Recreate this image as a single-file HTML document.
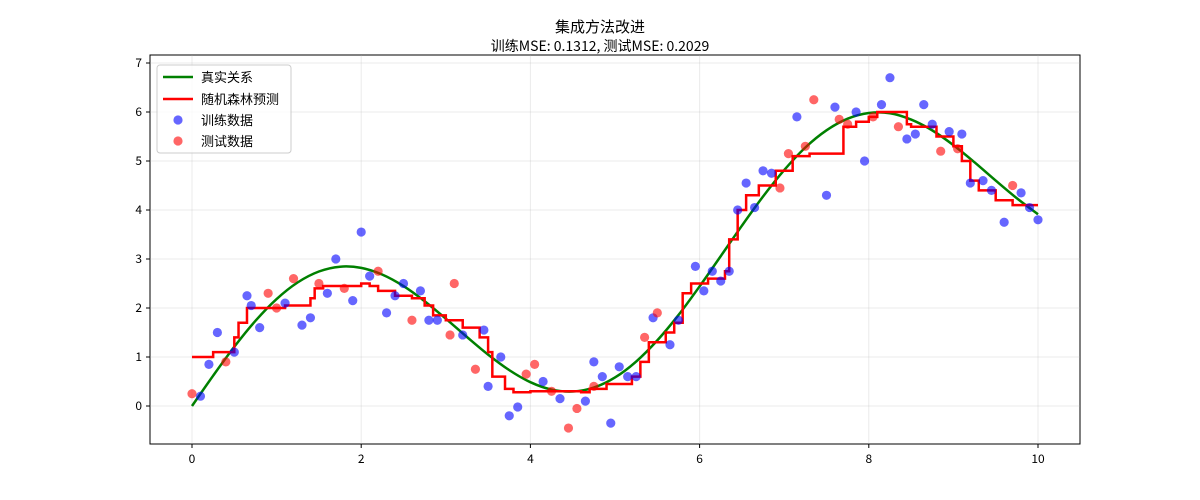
<!DOCTYPE html>
<html><head><meta charset="utf-8">
<style>
html,body{margin:0;padding:0;background:#fff;}
svg{display:block;font-family:"WenQuanYi Zen Hei","Noto Sans CJK SC","Liberation Sans",sans-serif;}
</style></head>
<body>
<svg id="chart" width="1200" height="500">
<text x="600" y="32" text-anchor="middle" font-size="15">集成方法改进</text>
<text x="600" y="51" text-anchor="middle" font-size="14">训练MSE: 0.1312, 测试MSE: 0.2029</text>
<rect x="150" y="55" width="930" height="389" fill="none" stroke="#000" stroke-width="1"/>
<g id="grid"></g>
<g id="series"></g>
<g id="ticks"></g>
<g>
<rect x="157" y="65" width="134" height="88" rx="3" fill="#fff" fill-opacity="0.8" stroke="#ccc"/>
<line x1="163" y1="77" x2="193" y2="77" stroke="green" stroke-width="2.5"/>
<text x="201" y="82" font-size="13">真实关系</text>
<line x1="163" y1="99" x2="193" y2="99" stroke="red" stroke-width="2.5"/>
<text x="201" y="104" font-size="13">随机森林预测</text>
<circle cx="178" cy="120" r="4.6" fill="blue" fill-opacity="0.6"/>
<text x="201" y="125" font-size="13">训练数据</text>
<circle cx="178" cy="141" r="4.6" fill="red" fill-opacity="0.6"/>
<text x="201" y="146" font-size="13">测试数据</text>
</g>
</svg>
<script>
const xTicks=[0,2,4,6,8,10];
const yTicks=[0,1,2,3,4,5,6,7];
const trueX=[0,0.25,0.5,0.75,1,1.25,1.5,1.75,2,2.25,2.5,2.75,3,3.25,3.5,3.75,4,4.25,4.5,4.75,5,5.25,5.5,5.75,6,6.25,6.5,6.75,7,7.25,7.5,7.75,8,8.25,8.5,8.75,9,9.25,9.5,9.75,10];
const trueY=[0,0.619,1.209,1.738,2.183,2.523,2.745,2.843,2.819,2.681,2.447,2.138,1.782,1.408,1.048,0.732,0.486,0.335,0.295,0.377,0.582,0.907,1.339,1.856,2.441,3.059,3.680,4.275,4.814,5.275,5.626,5.863,5.979,5.975,5.846,5.625,5.324,4.973,4.600,4.239,3.912];
const rfX=[0,0.25,0.5,0.55,0.65,1.1,1.4,1.45,1.55,2.0,2.1,2.2,2.4,2.6,2.75,2.85,3.0,3.2,3.4,3.5,3.55,3.7,3.8,4.0,4.6,4.7,4.9,5.1,5.2,5.3,5.4,5.6,5.7,5.8,5.9,6.1,6.3,6.35,6.45,6.55,6.7,6.9,7.1,7.3,7.7,7.85,8.0,8.1,8.45,8.5,8.8,9.0,9.1,9.2,9.3,9.5,9.7,10];
const rfY=[1.0,1.1,1.4,1.7,2.0,2.05,2.2,2.4,2.45,2.5,2.45,2.35,2.25,2.2,2.05,1.85,1.75,1.6,1.4,1.1,0.6,0.35,0.28,0.3,0.28,0.35,0.45,0.45,0.6,0.9,1.3,1.5,1.7,2.3,2.5,2.6,2.75,3.4,4.0,4.3,4.5,4.8,5.1,5.15,5.7,5.8,5.9,6.0,5.75,5.7,5.5,5.3,5.0,4.6,4.4,4.2,4.1,4.1];
const trainX=[0.1,0.2,0.3,0.5,0.65,0.7,0.8,1.1,1.3,1.4,1.6,1.7,1.9,2.0,2.1,2.3,2.4,2.5,2.7,2.8,2.9,3.2,3.45,3.5,3.65,3.75,3.85,4.15,4.35,4.65,4.75,4.85,4.95,5.05,5.15,5.25,5.45,5.65,5.75,5.95,6.05,6.15,6.25,6.35,6.45,6.55,6.65,6.75,6.85,7.15,7.5,7.6,7.85,7.95,8.15,8.25,8.45,8.55,8.65,8.75,8.95,9.1,9.2,9.35,9.45,9.6,9.8,9.9,10];
const trainY=[0.2,0.85,1.5,1.1,2.25,2.05,1.6,2.1,1.65,1.8,2.3,3.0,2.15,3.55,2.65,1.9,2.25,2.5,2.35,1.75,1.75,1.45,1.55,0.4,1.0,-0.2,-0.02,0.5,0.15,0.1,0.9,0.6,-0.35,0.8,0.6,0.6,1.8,1.25,1.75,2.85,2.35,2.75,2.55,2.75,4.0,4.55,4.05,4.8,4.75,5.9,4.3,6.1,6.0,5.0,6.15,6.7,5.45,5.55,6.15,5.75,5.6,5.55,4.55,4.6,4.4,3.75,4.35,4.05,3.8];
const testX=[0,0.4,0.9,1.0,1.2,1.5,1.8,2.2,2.6,3.05,3.1,3.35,3.95,4.05,4.25,4.45,4.55,4.75,5.35,5.5,6.95,7.05,7.25,7.35,7.65,7.75,8.05,8.35,8.85,9.05,9.7];
const testY=[0.25,0.9,2.3,2.0,2.6,2.5,2.4,2.75,1.75,1.45,2.5,0.75,0.65,0.85,0.3,-0.45,-0.05,0.4,1.4,1.9,4.45,5.15,5.3,6.25,5.85,5.75,5.9,5.7,5.2,5.25,4.5];

const NS='http://www.w3.org/2000/svg';
const X=v=>192+v*84.6;
const Y=v=>406-v*49;
function mk(tag,attrs,parent){const e=document.createElementNS(NS,tag);for(const k in attrs)e.setAttribute(k,attrs[k]);parent.appendChild(e);return e;}
const grid=document.getElementById('grid'),ticks=document.getElementById('ticks'),series=document.getElementById('series');
xTicks.forEach(t=>{
  const g=mk('line',{x1:X(t),x2:X(t),y1:55,y2:444,stroke:'#b0b0b0','stroke-opacity':0.25},grid);
  
  
  mk('line',{x1:X(t),x2:X(t),y1:444,y2:448,stroke:'#000'},ticks);
  const l=mk('text',{x:X(t),y:463,'text-anchor':'middle','font-size':12},ticks);
  l.textContent=t;
  
  
});
yTicks.forEach(t=>{
  const g=mk('line',{x1:150,x2:1080,y1:Y(t),y2:Y(t),stroke:'#b0b0b0','stroke-opacity':0.25},grid);
  
  
  mk('line',{x1:146,x2:150,y1:Y(t),y2:Y(t),stroke:'#000'},ticks);
  const l=mk('text',{x:142,y:Y(t)+4,'text-anchor':'end','font-size':12},ticks);
  l.textContent=t;
  
  
});
let d='M'+X(trueX[0])+','+Y(trueY[0]);
for(let i=0;i<trueX.length-1;i++){
  const p0=[X(trueX[Math.max(i-1,0)]),Y(trueY[Math.max(i-1,0)])],p1=[X(trueX[i]),Y(trueY[i])],p2=[X(trueX[i+1]),Y(trueY[i+1])],p3=[X(trueX[Math.min(i+2,trueX.length-1)]),Y(trueY[Math.min(i+2,trueX.length-1)])];
  d+=' C'+(p1[0]+(p2[0]-p0[0])/6)+','+(p1[1]+(p2[1]-p0[1])/6)+' '+(p2[0]-(p3[0]-p1[0])/6)+','+(p2[1]-(p3[1]-p1[1])/6)+' '+p2[0]+','+p2[1];
}
const tl=mk('path',{d:d,fill:'none',stroke:'green','stroke-width':2.5},series);


let s='M'+X(rfX[0])+','+Y(rfY[0]);
for(let i=1;i<rfX.length;i++){s+=' L'+X(rfX[i])+','+Y(rfY[i-1])+' L'+X(rfX[i])+','+Y(rfY[i]);}
const rl=mk('path',{d:s,fill:'none',stroke:'red','stroke-width':2.5},series);


trainX.forEach((x,i)=>{
  const c=mk('circle',{cx:X(x),cy:Y(trainY[i]),r:4.6,fill:'blue','fill-opacity':0.6},series);
  
  
});
testX.forEach((x,i)=>{
  const c=mk('circle',{cx:X(x),cy:Y(testY[i]),r:4.6,fill:'red','fill-opacity':0.6},series);
  
  
});
</script>
</body></html>
